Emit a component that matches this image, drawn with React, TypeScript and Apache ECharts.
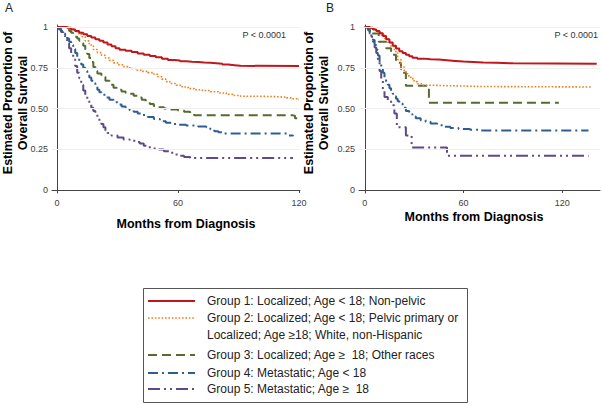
import React, { useEffect, useRef } from "react";
import * as echarts from "echarts";

// ---------- data ----------
const seriesNames = [
  "Group 1: Localized; Age < 18; Non-pelvic",
  "Group 2: Localized; Age < 18; Pelvic primary or Localized; Age ≥18; White, non-Hispanic",
  "Group 3: Localized; Age ≥  18; Other races",
  "Group 4: Metastatic; Age < 18",
  "Group 5: Metastatic; Age ≥  18",
];
const legendLabels = [
  "Group 1: Localized; Age < 18; Non-pelvic",
  "Group 2: Localized; Age < 18; Pelvic primary or\nLocalized; Age ≥18; White, non-Hispanic",
  "Group 3: Localized; Age ≥  18; Other races",
  "Group 4: Metastatic; Age < 18",
  "Group 5: Metastatic; Age ≥  18",
];
const panelLabels = ["A", "B"];
const pValueText = "P < 0.0001";
const yTitle = "Estimated Proportion of\nOverall Survival";
const xTitle = "Months from Diagnosis";
const yTicks = [0, 0.25, 0.5, 0.75, 1];
const yTickLabels = ["0", "0.25", "0.50", "0.75", "1"];
const xTicks = [0, 60, 120];

// Panel A  [month, survival]
const g1A = [[0,1],[3,1],[5,0.995],[7,0.985],[9,0.975],[11,0.965],[13,0.955],[15,0.945],[17,0.935],[19,0.925],[21,0.915],[23,0.905],[25,0.893],[27,0.882],[29,0.87],[31,0.86],[34,0.855],[37,0.847],[40,0.838],[43,0.83],[46,0.822],[49,0.814],[52,0.806],[55,0.798],[58,0.795],[61,0.79],[64,0.787],[67,0.785],[70,0.782],[73,0.78],[76,0.778],[79,0.775],[82,0.77],[85,0.766],[88,0.762],[91,0.76],[120,0.76]];
const g2A = [[0,1],[4,0.998],[6,0.99],[8,0.978],[10,0.96],[12,0.94],[14,0.915],[16,0.89],[18,0.862],[20,0.843],[22,0.827],[24,0.81],[26,0.795],[28,0.78],[30,0.768],[33,0.757],[36,0.745],[39,0.735],[42,0.728],[45,0.72],[48,0.71],[50,0.695],[52,0.68],[54,0.665],[56,0.653],[59,0.643],[62,0.632],[65,0.622],[68,0.615],[72,0.61],[76,0.603],[80,0.595],[84,0.587],[88,0.58],[91,0.575],[100,0.573],[108,0.57],[113,0.565],[117,0.56],[119,0.555],[120,0.552]];
const g3A = [[0,1],[4,1],[5,0.99],[6,0.975],[7,0.965],[8,0.955],[9,0.94],[10,0.93],[11,0.915],[12,0.9],[13,0.885],[14,0.86],[15,0.835],[16,0.81],[17,0.785],[18,0.755],[19,0.73],[20,0.715],[22,0.695],[24,0.67],[26,0.645],[28,0.628],[30,0.615],[32,0.605],[34,0.597],[36,0.59],[38,0.578],[40,0.567],[42,0.553],[44,0.54],[46,0.527],[48,0.515],[50,0.507],[53,0.5],[56,0.494],[60,0.488],[63,0.48],[66,0.468],[68,0.458],[117,0.455],[118,0.44],[120,0.435]];
const g4A = [[0,1],[1,0.99],[2,0.975],[3,0.96],[4,0.945],[5,0.93],[6,0.91],[7,0.89],[8,0.865],[9,0.84],[10,0.815],[11,0.79],[12,0.77],[13,0.75],[14,0.73],[15,0.71],[16,0.69],[17,0.67],[18,0.655],[19,0.635],[20,0.615],[21,0.6],[22,0.585],[24,0.568],[26,0.553],[28,0.538],[30,0.525],[32,0.513],[34,0.502],[36,0.49],[38,0.48],[40,0.47],[42,0.46],[45,0.448],[48,0.435],[51,0.422],[54,0.412],[57,0.405],[60,0.4],[64,0.395],[70,0.39],[74,0.385],[76,0.372],[78,0.36],[80,0.355],[83,0.347],[113,0.345],[115,0.335],[117,0.33]];
const g5A = [[0,1],[1,0.985],[2,0.97],[3,0.95],[4,0.925],[5,0.9],[6,0.87],[7,0.835],[8,0.8],[9,0.76],[10,0.72],[11,0.685],[12,0.645],[13,0.61],[14,0.58],[15,0.555],[16,0.53],[17,0.505],[18,0.485],[19,0.465],[20,0.445],[21,0.425],[22,0.405],[23,0.385],[24,0.365],[25,0.35],[27,0.335],[30,0.322],[33,0.31],[36,0.302],[39,0.295],[41,0.285],[43,0.272],[45,0.262],[47,0.255],[50,0.248],[53,0.238],[56,0.228],[58,0.218],[60,0.21],[63,0.203],[66,0.197],[117,0.194]];

// Panel B  [month, survival]
const g1B = [[0,1],[3,0.995],[5,0.985],[7,0.975],[9,0.962],[11,0.945],[13,0.925],[15,0.905],[17,0.885],[19,0.868],[21,0.852],[23,0.84],[25,0.83],[27,0.82],[29,0.812],[32,0.806],[36,0.802],[40,0.8],[45,0.796],[50,0.792],[55,0.788],[60,0.785],[66,0.782],[72,0.78],[80,0.777],[90,0.775],[141,0.775]];
const g2B = [[0,1],[2,0.998],[4,0.99],[6,0.98],[8,0.965],[10,0.95],[12,0.93],[14,0.905],[16,0.88],[18,0.85],[20,0.8],[22,0.755],[24,0.725],[26,0.7],[28,0.683],[30,0.665],[32,0.652],[35,0.643],[40,0.64],[50,0.638],[60,0.635],[70,0.632],[138,0.632]];
const g3B = [[0,1],[3,0.96],[8.5,0.91],[13,0.87],[16,0.83],[19,0.78],[22,0.72],[25,0.64],[39,0.535],[118,0.535]];
const g4B = [[0,1],[1,0.995],[2,0.98],[3,0.965],[4,0.945],[5,0.92],[6,0.89],[7,0.86],[8,0.825],[9,0.79],[10,0.755],[11,0.72],[12,0.69],[13,0.665],[14,0.645],[15,0.625],[16,0.607],[17,0.59],[18,0.575],[19,0.56],[20,0.545],[21,0.53],[23,0.505],[25,0.485],[27,0.465],[29,0.452],[31,0.44],[34,0.428],[37,0.418],[40,0.408],[44,0.398],[48,0.388],[52,0.38],[57,0.375],[64,0.37],[70,0.365],[136,0.365]];
const g5B = [[0,1],[2,0.985],[3,0.96],[4,0.94],[5,0.91],[6,0.875],[7,0.84],[8,0.79],[9,0.73],[10,0.67],[11,0.61],[12,0.57],[14,0.55],[16,0.52],[18,0.47],[19.5,0.385],[25,0.335],[28.5,0.26],[50,0.21],[136,0.21]];

const panelData = [
  [g1A, g2A, g3A, g4A, g5A],
  [g1B, g2B, g3B, g4B, g5B],
];

// ---------- styles ----------
const colors = ["#c0161c", "#f07f1f", "#566b30", "#2e5e91", "#5d4a87"];
const widths = [2, 1.6, 2, 2, 2];
const dashes: (number[] | "solid")[] = ["solid", [1.6, 1.8], [9, 5], [10, 4, 2, 4], [12, 4, 2, 4, 2, 4]];
const FONT = '"Liberation Sans", Arial, sans-serif';

export default function App() {
  const ref = useRef<HTMLDivElement>(null);
  useEffect(() => {
    if (!ref.current) return;
    const chart = echarts.init(ref.current, null, { renderer: "svg" });

    const grids = [
      { left: 52, top: 25, width: 248, height: 168 },
      { left: 359, top: 25, width: 241, height: 168 },
    ];
    const xRanges = [
      [-2.5, 120.5],
      [-3.5, 143],
    ];
    const yMin = -0.0184;
    const yMax = 1.0123;

    const xAxes = xRanges.map((r, i) => ({
      type: "value",
      gridIndex: i,
      min: r[0],
      max: r[1],
      splitLine: { show: false },
      axisLine: { show: true, lineStyle: { color: "#444", width: 1 } },
      axisTick: { show: true, length: 3, customValues: xTicks, lineStyle: { color: "#444" } },
      axisLabel: {
        customValues: xTicks,
        margin: 5,
        fontSize: 9,
        color: "#404040",
        fontFamily: FONT,
      },
    }));
    const yAxes = [0, 1].map((i) => ({
      type: "value",
      gridIndex: i,
      min: yMin,
      max: yMax,
      splitLine: { show: false },
      axisLine: { show: true, lineStyle: { color: "#444", width: 1 } },
      axisTick: { show: true, length: 3, customValues: yTicks, lineStyle: { color: "#444" } },
      axisLabel: {
        customValues: yTicks,
        margin: 4,
        fontSize: 9,
        color: "#404040",
        fontFamily: FONT,
        formatter: (v: number) => {
          const k = yTicks.findIndex((t) => Math.abs(t - v) < 1e-6);
          return k >= 0 ? yTickLabels[k] : "";
        },
      },
    }));

    const series: any[] = [];
    [0, 1].forEach((p) => {
      series.push({
        type: "line",
        name: "grid" + p,
        xAxisIndex: p,
        yAxisIndex: p,
        data: [],
        z: 1,
        silent: true,
        markLine: {
          silent: true,
          symbol: "none",
          label: { show: false },
          lineStyle: { color: "#efefef", type: "solid", width: 1 },
          data: yTicks.filter((v) => v > 0).map((v) => ({ yAxis: v })),
        },
      });
      for (let g = 4; g >= 0; g--) {
        series.push({
          type: "line",
          name: seriesNames[g],
          xAxisIndex: p,
          yAxisIndex: p,
          data: panelData[p][g],
          step: "end",
          symbol: "none",
          z: 3,
          lineStyle: { color: colors[g], width: widths[g], type: dashes[g] },
          itemStyle: { color: colors[g] },
        });
      }
    });

    // legend (drawn in a box)
    const lgLeft = 143.5;
    const lgTop = 288.5;
    const iconY = [301, 318, 355, 373, 389];
    const graphic: any[] = [
      {
        type: "rect",
        shape: { x: lgLeft, y: lgTop, width: 324, height: 114 },
        style: { fill: "none", stroke: "#555", lineWidth: 1 },
      },
    ];
    legendLabels.forEach((lab, g) => {
      graphic.push({
        type: "line",
        shape: { x1: 148, y1: iconY[g], x2: 195, y2: iconY[g] },
        style: {
          stroke: colors[g],
          lineWidth: widths[g],
          lineDash: dashes[g] === "solid" ? null : dashes[g],
        },
      });
      graphic.push({
        type: "text",
        x: 207,
        y: iconY[g],
        style: {
          text: lab,
          font: `12px ${FONT}`,
          fill: "#222",
          lineHeight: 17,
          textVerticalAlign: "top",
          verticalAlign: "top",
          y: -8.5,
        },
      });
    });

    // titles, panel letters, p values
    const yTitleX = [15.5, 316.5];
    const xTitlePos = [
      [186, 224],
      [474, 217],
    ];
    const letterX = [5, 326];
    const pRight = [286, 598];
    [0, 1].forEach((p) => {
      graphic.push({
        type: "text",
        x: yTitleX[p],
        y: 103,
        rotation: Math.PI / 2,
        style: {
          text: yTitle,
          font: `bold 12.5px ${FONT}`,
          fill: "#000",
          align: "center",
          verticalAlign: "middle",
          lineHeight: 15,
        },
      });
      graphic.push({
        type: "text",
        x: xTitlePos[p][0],
        y: xTitlePos[p][1],
        style: {
          text: xTitle,
          font: `bold 12.5px ${FONT}`,
          fill: "#000",
          align: "center",
          verticalAlign: "middle",
        },
      });
      graphic.push({
        type: "text",
        x: letterX[p],
        y: 8,
        style: {
          text: panelLabels[p],
          font: `12px ${FONT}`,
          fill: "#222",
          align: "left",
          verticalAlign: "middle",
        },
      });
      graphic.push({
        type: "text",
        x: pRight[p],
        y: 35,
        style: {
          text: pValueText,
          font: `9px ${FONT}`,
          fill: "#333",
          align: "right",
          verticalAlign: "middle",
        },
      });
    });

    chart.setOption({
      animation: false,
      backgroundColor: "#fff",
      textStyle: { fontFamily: FONT },
      grid: grids,
      xAxis: xAxes,
      yAxis: yAxes,
      series,
      graphic,
    });
    return () => chart.dispose();
  }, []);
  return (
    <div
      ref={ref}
      style={{ position: "fixed", left: 0, top: 0, width: 602, height: 405, background: "#fff" }}
    />
  );
}
